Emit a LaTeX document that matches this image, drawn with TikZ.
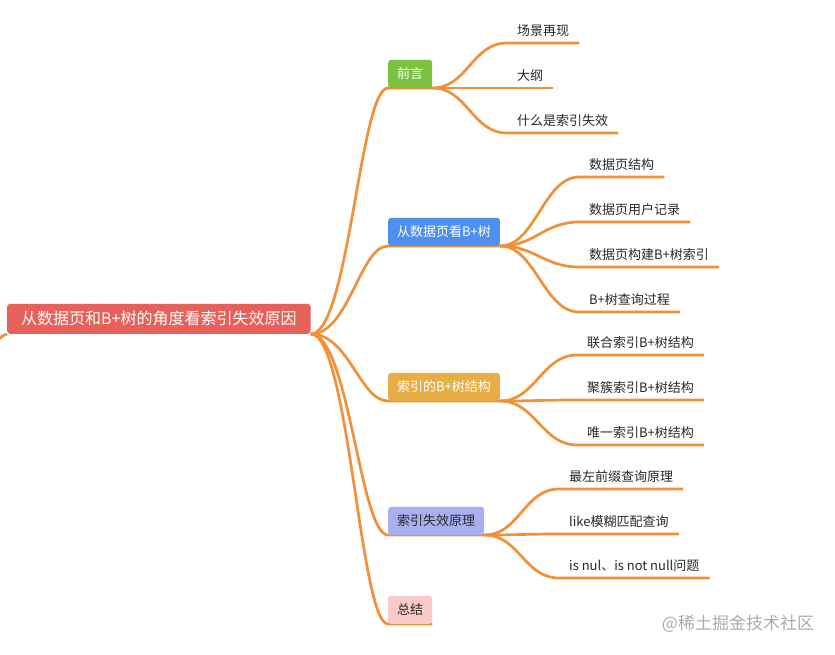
\documentclass[tikz,border=0pt]{standalone}
\usepackage{fontspec}
\setmainfont{Noto Sans CJK SC}
\usetikzlibrary{backgrounds}

\definecolor{linkorange}{RGB}{240,145,58}
\definecolor{rootred}{RGB}{232,96,90}
\definecolor{greenb}{RGB}{124,193,66}
\definecolor{blueb}{RGB}{78,143,240}
\definecolor{yellowb}{RGB}{232,174,69}
\definecolor{lavenderb}{RGB}{169,174,240}
\definecolor{pinkb}{RGB}{250,202,202}
\definecolor{textdark}{RGB}{40,40,40}

\begin{document}
\begin{tikzpicture}
        [x=1pt, y=-1pt, font=\fontsize{13}{15}\selectfont,
         branch/.style={anchor=south west, rounded corners=3pt, minimum height=28pt, inner xsep=9pt, text=white},
         leaf/.style={anchor=south west, inner xsep=10pt, inner ysep=4pt, text depth=3pt, text=textdark},
         link/.style={draw=linkorange, line width=2.7pt}]

        \useasboundingbox (0,0) rectangle (835,654);

        \node[anchor=south west, fill=rootred, text=white, rounded corners=3pt, minimum height=30pt, inner xsep=14pt, font=\fontsize{16}{18}\selectfont] (root) at (7,334) {从数据页和B+树的角度看索引失效原因};

        \node[branch, fill=greenb] (b-1) at (388,88) {前言};
        \node[branch, fill=blueb] (b-2) at (388,246) {从数据页看B+树};
        \node[branch, fill=yellowb] (b-3) at (388,401) {索引的B+树结构};
        \node[branch, fill=lavenderb, text=textdark] (b-4) at (388,535) {索引失效原理};
        \node[branch, fill=pinkb, text=textdark] (b-5) at (388,624) {总结};

        \foreach \y/\t [count=\i] in {43/场景再现, 88/大纲, 133/什么是索引失效}
        \node[leaf] (leaf-1-\i) at (507,\y) {\t};

        \foreach \y/\t [count=\i] in {177/数据页结构, 222/数据页用户记录, 267/数据页构建B+树索引, 312/B+树查询过程}
        \node[leaf] (leaf-2-\i) at (579,\y) {\t};

        \foreach \y/\t [count=\i] in {355/联合索引B+树结构, 400/聚簇索引B+树结构, 445/唯一索引B+树结构}
        \node[leaf] (leaf-3-\i) at (577,\y) {\t};

        \foreach \y/\t [count=\i] in {489/最左前缀查询原理, 534/like模糊匹配查询, 578/is nul、is not null问题}
        \node[leaf] (leaf-4-\i) at (559,\y) {\t};

        \node[text=black!33, font=\fontsize{17}{19}\selectfont] (mark) at (738,624) {@稀土掘金技术社区};

        \begin{scope}[on background layer]
        \draw[link] (root.south west) to[out=180, in=30] ++(-8,5);

        \foreach \i in {1,...,5}
        \draw[link] (root.south east) .. controls +(38,0) and +(-28,0) .. (b-\i.south west) -- (b-\i.south east);

        \foreach \i in {1,...,3}
        \draw[link] (b-1.south east) .. controls +(35,0) and +(-35,0) .. (leaf-1-\i.south west) -- (leaf-1-\i.south east);

        \foreach \i in {1,...,4}
        \draw[link] (b-2.south east) .. controls +(35,0) and +(-35,0) .. (leaf-2-\i.south west) -- (leaf-2-\i.south east);

        \foreach \i in {1,...,3}
        \draw[link] (b-3.south east) .. controls +(35,0) and +(-35,0) .. (leaf-3-\i.south west) -- (leaf-3-\i.south east);

        \foreach \i in {1,...,3}
        \draw[link] (b-4.south east) .. controls +(35,0) and +(-35,0) .. (leaf-4-\i.south west) -- (leaf-4-\i.south east);
        \end{scope}

    \end{tikzpicture}
\end{document}
